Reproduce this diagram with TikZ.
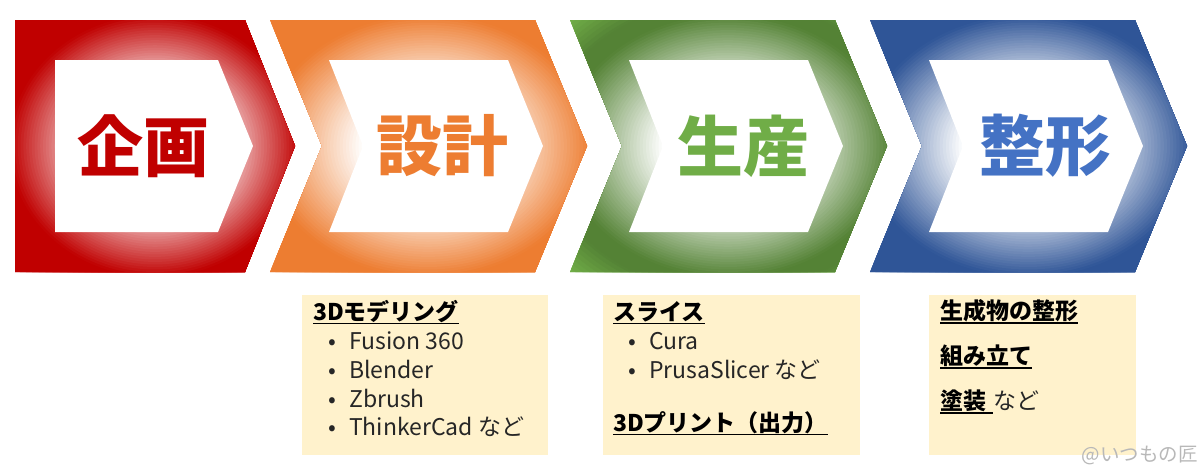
\documentclass[tikz,border=0pt]{standalone}
\usepackage{fontspec}
\setmainfont{Noto Sans CJK JP}
\usetikzlibrary{positioning}

\definecolor{kikaku}{HTML}{C00000}
\definecolor{sekkei}{HTML}{ED7D31}
\definecolor{seisan}{HTML}{70AD47}
\definecolor{seisandark}{HTML}{548235}
\definecolor{seikei}{HTML}{2F5597}
\definecolor{seikeitext}{HTML}{4472C4}
\definecolor{memo}{HTML}{FFF2CC}

% glow behind a chevron: x of centre, half width, ring colour, corner colour
\newcommand\chevglow[4]{%
  \fill[#4] (#1,146) ellipse [x radius=1.5*#2, y radius=189];
  \foreach \k in {142,139,...,118} {
    \pgfmathsetmacro\p{min(100,(142-\k)*4)}
    \fill[#3!\p!#4] (#1,146) ellipse [x radius=\k/100*#2, y radius=\k*1.26];
  }
  \foreach \k in {116,114,...,40} {
    \pgfmathsetmacro\p{min(100,max(0,(\k-42)/63*100))}
    \fill[#3!\p!white] (#1,146) ellipse [x radius=\k/100*#2, y radius=\k*1.26];
  }
}

\tikzset{
  stage/.style={font=\fontsize{66}{66}\selectfont\bfseries, text=#1, inner sep=0},
  head/.style={font=\fontsize{23}{23}\selectfont\bfseries, anchor=base west, inner sep=0},
  item/.style={font=\fontsize{23}{23}\selectfont, text=black!85, anchor=base west, inner sep=0},
  ul/.style={line width=1.4pt},
}
\newcommand\itm{\makebox[0pt]{\textbullet}\hspace{17pt}}

\begin{document}
\begin{tikzpicture}[x=1pt, y=-1pt]
  \useasboundingbox (0,0) rectangle (1200,467);

  % Kikaku
  \begin{scope}
    \clip (15,20) -- (245,20) -- (295,146) -- (245,272) -- (15,272) -- cycle;
    \chevglow{155}{140}{kikaku}{kikaku}
  \end{scope}
  \fill[white] (55,60) -- (218,60) -- (253,146) -- (218,232) -- (55,232) -- cycle;
  \node[stage=kikaku] (kikaku) at (143,146) {企画};

  % Sekkei
  \begin{scope}
    \clip (270,20) -- (535,20) -- (587,146) -- (535,272) -- (270,272) -- (322,146) -- cycle;
    \chevglow{428}{158}{sekkei}{sekkei}
  \end{scope}
  \fill[white] (329,60) -- (508,60) -- (543,146) -- (508,232) -- (329,232) -- (363,146) -- cycle;
  \node[stage=sekkei] (sekkei) at (442,146) {設計};

  % Seisan
  \begin{scope}
    \clip (570,20) -- (835,20) -- (887,146) -- (835,272) -- (570,272) -- (622,146) -- cycle;
    \chevglow{728}{158}{seisandark}{seisan}
  \end{scope}
  \fill[white] (629,60) -- (808,60) -- (843,146) -- (808,232) -- (629,232) -- (663,146) -- cycle;
  \node[stage=seisan] (seisan) at (743,146) {生産};

  % Seikei
  \begin{scope}
    \clip (870,20) -- (1135,20) -- (1187,146) -- (1135,272) -- (870,272) -- (922,146) -- cycle;
    \chevglow{1028}{158}{seikei}{seikei}
  \end{scope}
  \fill[white] (929,60) -- (1108,60) -- (1143,146) -- (1108,232) -- (929,232) -- (963,146) -- cycle;
  \node[stage=seikeitext] (seikei) at (1045,146) {整形};

  % Notes under Sekkei
  \fill[memo] (302,295) rectangle (548,455);
  \node[head] (modeling) at (313,320) {3Dモデリング};
  \draw[ul] ([yshift=-3.5pt]modeling.base west) -- ([yshift=-3.5pt]modeling.base east);
  \node[item] (fusion) at (332,349) {\itm Fusion 360};
  \node[item] (blender) at (332,378) {\itm Blender};
  \node[item] (zbrush) at (332,407) {\itm Zbrush};
  \node[item] (thinker) at (332,435) {\itm ThinkerCad など};

  % Notes under Seisan
  \fill[memo] (603,295) rectangle (860,455);
  \node[head] (slice) at (613,320) {スライス};
  \draw[ul] ([yshift=-3.5pt]slice.base west) -- ([yshift=-3.5pt]slice.base east);
  \node[item] (cura) at (632,349) {\itm Cura};
  \node[item] (prusa) at (632,378) {\itm PrusaSlicer など};
  \node[head] (print) at (613,431) {3Dプリント（出力）};
  \draw[ul] ([yshift=-3.5pt]print.base west) -- ([yshift=-3.5pt]print.base east);

  % Notes under Seikei
  \fill[memo] (929,295) rectangle (1136,455);
  \node[head] (finish) at (940,319) {生成物の整形};
  \draw[ul] ([yshift=-4pt]finish.base west) -- ([yshift=-4pt]finish.base east);
  \node[head] (assemble) at (940,364) {組み立て};
  \draw[ul] ([yshift=-4pt]assemble.base west) -- ([yshift=-4pt]assemble.base east);
  \node[head] (paint) at (940,409) {塗装\kern7pt};
  \draw[ul] ([yshift=-4pt]paint.base west) -- ([yshift=-4pt]paint.base east);
  \node[item] (paintetc) at (paint.base east) {など};

  \node[font=\fontsize{19.5}{19.5}\selectfont, text=black!28, anchor=base east, inner sep=0] (credit) at (1198,461) {@いつもの匠};
\end{tikzpicture}
\end{document}
